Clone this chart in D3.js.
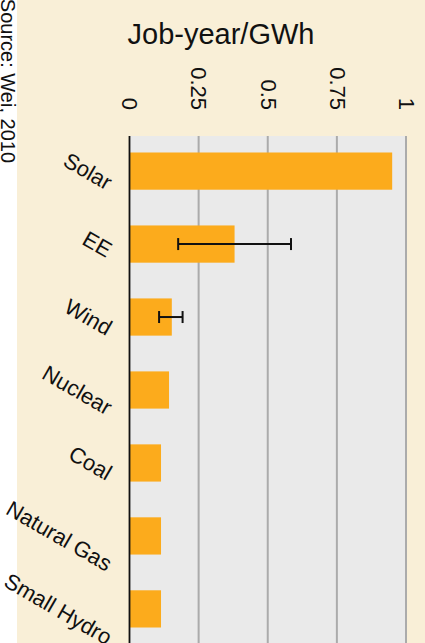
<!DOCTYPE html>
<html>
<head>
<meta charset="utf-8">
<script src="https://cdn.jsdelivr.net/npm/d3@7"></script>
<style>
  html, body { margin: 0; padding: 0; background: #ffffff; }
  svg { display: block; font-family: "Liberation Sans", Arial, Helvetica, sans-serif; }
</style>
</head>
<body>
<svg id="chart" width="425" height="643"></svg>
<script>
// Employment intensity by energy source (job-years per GWh)
const categories = ["Solar", "EE", "Wind", "Nuclear", "Coal", "Natural Gas", "Small Hydro"];
const values     = [0.95, 0.38, 0.153, 0.143, 0.114, 0.114, 0.114];
const errLow     = [null, 0.176, 0.107, null, null, null, null];
const errHigh    = [null, 0.584, 0.192, null, null, null, null];
const tickValues = [0, 0.25, 0.5, 0.75, 1];
const tickLabels = ["0", "0.25", "0.5", "0.75", "1"];
const titleText  = "Job-year/GWh";
const sourceText = "Source: Wei, 2010";

const W = 425, H = 643;
const plotLeft = 129.5, plotRight = 406, plotTop = 136;

const svg = d3.select("#chart");

// panel backgrounds
svg.append("rect").attr("x", 17).attr("y", 0).attr("width", W - 17).attr("height", H)
  .attr("fill", "#f9efd7");
svg.append("rect").attr("x", plotLeft).attr("y", plotTop)
  .attr("width", plotRight - plotLeft).attr("height", H - plotTop)
  .attr("fill", "#eaeaea");

const x = d3.scaleLinear().domain([0, 1]).range([plotLeft, plotRight]);
const y = d3.scaleBand().domain(categories).range([plotTop, 644])
  .paddingInner(0.49).paddingOuter(0.226);

// vertical gridlines
svg.append("g").selectAll("line").data(tickValues.filter(d => d > 0)).join("line")
  .attr("x1", d => x(d)).attr("x2", d => x(d))
  .attr("y1", plotTop).attr("y2", H)
  .attr("stroke", "#ababab").attr("stroke-width", 2);

// value axis labels, turned on their side
const axis = d3.axisTop(x).tickValues(tickValues)
  .tickFormat((d, i) => tickLabels[i]).tickSize(0);
const ax = svg.append("g").attr("transform", "translate(0,110)").call(axis);
ax.select(".domain").remove();
ax.selectAll("text")
  .attr("x", 0).attr("y", 0).attr("dy", "0.35em")
  .attr("text-anchor", "end")
  .attr("transform", "rotate(90)")
  .attr("fill", "#111")
  .style("font-size", "22px")
  .style("font-family", "'Liberation Sans', Arial, Helvetica, sans-serif");

// bars
const rows = categories.map((c, i) => ({ c, v: values[i], lo: errLow[i], hi: errHigh[i] }));
svg.append("g").selectAll("rect").data(rows).join("rect")
  .attr("x", x(0)).attr("y", d => y(d.c))
  .attr("width", d => x(d.v) - x(0)).attr("height", y.bandwidth())
  .attr("fill", "#fcab1c");

// error bars
const eb = svg.append("g").selectAll("g").data(rows.filter(d => d.lo != null)).join("g")
  .attr("stroke", "#111").attr("stroke-width", 2);
eb.append("line")
  .attr("x1", d => x(d.lo)).attr("x2", d => x(d.hi))
  .attr("y1", d => y(d.c) + y.bandwidth() / 2).attr("y2", d => y(d.c) + y.bandwidth() / 2);
eb.append("line")
  .attr("x1", d => x(d.lo)).attr("x2", d => x(d.lo))
  .attr("y1", d => y(d.c) + y.bandwidth() / 2 - 6).attr("y2", d => y(d.c) + y.bandwidth() / 2 + 6);
eb.append("line")
  .attr("x1", d => x(d.hi)).attr("x2", d => x(d.hi))
  .attr("y1", d => y(d.c) + y.bandwidth() / 2 - 6).attr("y2", d => y(d.c) + y.bandwidth() / 2 + 6);

// zero baseline
svg.append("line").attr("x1", x(0)).attr("x2", x(0)).attr("y1", plotTop).attr("y2", H)
  .attr("stroke", "#111").attr("stroke-width", 1.8);

// category labels, slanted and centred on each bar
const catG = svg.append("g");
rows.forEach(d => {
  const t = catG.append("text")
    .attr("text-anchor", "middle").attr("dy", "0.35em")
    .attr("fill", "#111").style("font-size", "22px")
    .text(d.c);
  const L = t.node().getComputedTextLength();
  const cx = 110.1 - 0.433 * L;
  const cy = y(d.c) + y.bandwidth() / 2;
  t.attr("transform", `translate(${cx},${cy}) rotate(30)`);
});

// title
svg.append("text").attr("x", 221).attr("y", 43.5)
  .attr("text-anchor", "middle").attr("fill", "#111")
  .style("font-size", "29px").text(titleText);

// source note
svg.append("text").attr("transform", "translate(0.5,163) rotate(90)")
  .attr("text-anchor", "end").attr("fill", "#111")
  .style("font-size", "20px").text(sourceText);
</script>
</body>
</html>
